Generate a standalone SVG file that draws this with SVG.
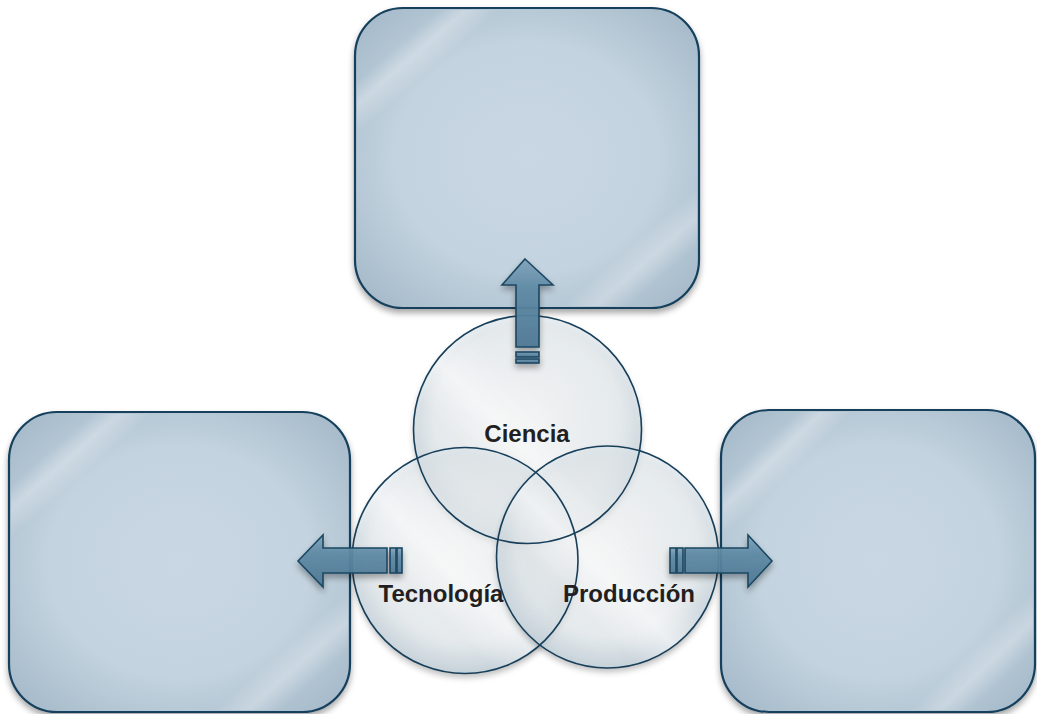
<svg xmlns="http://www.w3.org/2000/svg" width="1037" height="714" viewBox="0 0 1037 714">
<style>
.box{stroke:#133f5c;stroke-width:2.2}
.sheen{fill:url(#sheen);stroke:none}
.cfill{fill:url(#cfill);stroke:none}
.cline{fill:none;stroke:#173f5a;stroke-width:1.6}
.csheen{fill:url(#csheen);stroke:none}
.arrow{fill:url(#afill);fill-opacity:0.92;stroke:#1b4762;stroke-width:1.6;stroke-linejoin:miter}
.lbl{font-family:"Liberation Sans",Arial,sans-serif;font-weight:bold;font-size:24px;fill:#231f20;text-anchor:middle}
</style>
<defs>
<radialGradient id="bfill" cx="0.5" cy="0.5" r="0.7">
<stop offset="0" stop-color="#c8d7e3"/>
<stop offset="0.55" stop-color="#c3d3df"/>
<stop offset="1" stop-color="#a1b6c6"/>
</radialGradient>
<linearGradient id="sheen" x1="0" y1="0" x2="1" y2="1">
<stop offset="0" stop-color="#ffffff" stop-opacity="0"/>
<stop offset="0.12" stop-color="#ffffff" stop-opacity="0"/>
<stop offset="0.16" stop-color="#ffffff" stop-opacity="0.3"/>
<stop offset="0.21" stop-color="#ffffff" stop-opacity="0"/>
<stop offset="0.8" stop-color="#ffffff" stop-opacity="0"/>
<stop offset="0.85" stop-color="#ffffff" stop-opacity="0.28"/>
<stop offset="0.9" stop-color="#ffffff" stop-opacity="0"/>
</linearGradient>
<radialGradient id="cfill" cx="0.5" cy="0.45" r="0.58">
<stop offset="0" stop-color="#f8fafb" stop-opacity="0.6"/>
<stop offset="0.7" stop-color="#e6edf1" stop-opacity="0.6"/>
<stop offset="1" stop-color="#b8c8d3" stop-opacity="0.8"/>
</radialGradient>
<linearGradient id="csheen" x1="0" y1="1" x2="1" y2="0">
<stop offset="0" stop-color="#ffffff" stop-opacity="0"/>
<stop offset="0.32" stop-color="#ffffff" stop-opacity="0"/>
<stop offset="0.45" stop-color="#ffffff" stop-opacity="0.55"/>
<stop offset="0.6" stop-color="#ffffff" stop-opacity="0"/>
</linearGradient>
<linearGradient id="afill" x1="0" y1="0" x2="0" y2="1">
<stop offset="0" stop-color="#7fa3bb"/>
<stop offset="0.35" stop-color="#5e89a5"/>
<stop offset="1" stop-color="#4d7894"/>
</linearGradient>
<filter id="shadow" x="-10%" y="-10%" width="120%" height="125%">
<feDropShadow dx="0" dy="4" stdDeviation="3" flood-color="#000" flood-opacity="0.35"/>
</filter>
</defs>

<g id="box-top" filter="url(#shadow)">
<rect class="box" x="355" y="8" width="344" height="300" rx="48" ry="48" fill="url(#bfill)"/>
<rect class="sheen" x="357" y="10" width="340" height="296" rx="46" ry="46"/>
</g>
<g id="box-left" filter="url(#shadow)">
<rect class="box" x="9" y="412" width="341" height="300" rx="48" ry="48" fill="url(#bfill)"/>
<rect class="sheen" x="11" y="414" width="337" height="296" rx="46" ry="46"/>
</g>
<g id="box-right" filter="url(#shadow)">
<rect class="box" x="721" y="410" width="314" height="302" rx="48" ry="48" fill="url(#bfill)"/>
<rect class="sheen" x="723" y="412" width="310" height="298" rx="46" ry="46"/>
</g>

<g id="circle-ciencia" filter="url(#shadow)">
<circle class="cfill" cx="527.5" cy="429.5" r="114"/>
<circle class="csheen" cx="527.5" cy="429.5" r="113"/>
</g>
<g id="circle-tecnologia" filter="url(#shadow)">
<circle class="cfill" cx="465" cy="560.5" r="113"/>
<circle class="csheen" cx="465" cy="560.5" r="112"/>
</g>
<g id="circle-produccion" filter="url(#shadow)">
<circle class="cfill" cx="607.5" cy="557" r="111"/>
<circle class="csheen" cx="607.5" cy="557" r="110"/>
</g>
<g id="circle-outlines">
<circle class="cline" cx="527.5" cy="429.5" r="114"/>
<circle class="cline" cx="465" cy="560.5" r="113"/>
<circle class="cline" cx="607.5" cy="557" r="111"/>
</g>

<g id="connectors" filter="url(#shadow)">
<g id="arrow-up">
<path class="arrow" d="M525,259 L553,285 L539,285 L539,347 L516,347 L516,285 L502,285 Z"/>
<rect class="arrow" x="516" y="352" width="23" height="5"/>
<rect class="arrow" x="516" y="359" width="23" height="4"/>
</g>
<g id="arrow-left">
<path class="arrow" d="M298,561 L323,535 L323,548 L387,548 L387,573 L323,573 L323,587 Z"/>
<rect class="arrow" x="390" y="548" width="6" height="25"/>
<rect class="arrow" x="397" y="548" width="5" height="25"/>
</g>
<g id="arrow-right">
<path class="arrow" d="M772,561 L748,535 L748,548 L685,548 L685,573 L748,573 L748,587 Z"/>
<rect class="arrow" x="670" y="548" width="6" height="25"/>
<rect class="arrow" x="677" y="548" width="6" height="25"/>
</g>
</g>

<g id="labels">
<text class="lbl" x="527" y="442">Ciencia</text>
<text class="lbl" x="441" y="602">Tecnología</text>
<text class="lbl" x="629" y="602">Producción</text>
</g>
</svg>
